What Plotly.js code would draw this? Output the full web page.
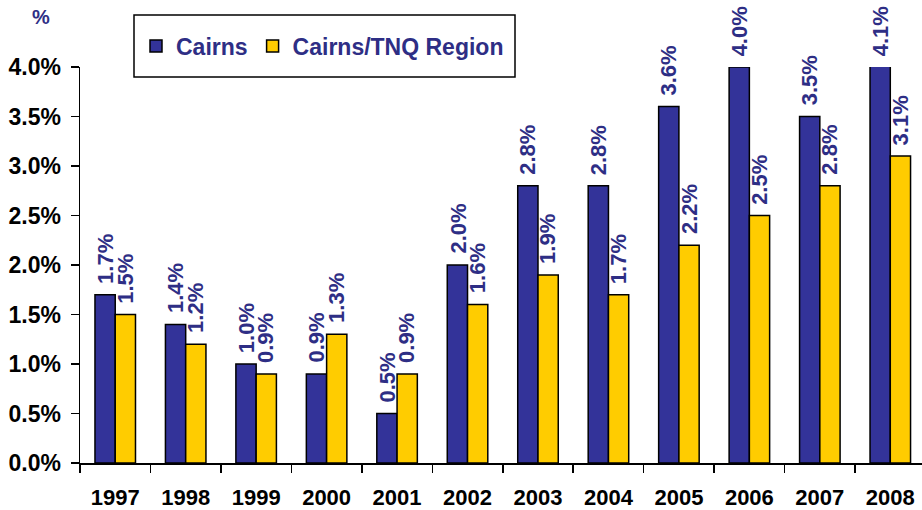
<!DOCTYPE html>
<html>
<head>
<meta charset="utf-8">
<script src="https://cdn.plot.ly/plotly-3.0.1.min.js"></script>
<style>html,body{margin:0;padding:0;background:#fff;}#chart{width:922px;height:510px;}</style>
</head>
<body>
<div id="chart"></div>
<script>
var years = ['1997','1998','1999','2000','2001','2002','2003','2004','2005','2006','2007','2008'];
var cairns = [1.7, 1.4, 1.0, 0.9, 0.5, 2.0, 2.8, 2.8, 3.6, 4.0, 3.5, 4.1];
var region = [1.5, 1.2, 0.9, 1.3, 0.9, 1.6, 1.9, 1.7, 2.2, 2.5, 2.8, 3.1];
var seriesNames = ['Cairns', 'Cairns/TNQ Region'];
var yTickVals = [0, 0.5, 1.0, 1.5, 2.0, 2.5, 3.0, 3.5, 4.0];
var yTickText = ['0.0%','0.5%','1.0%','1.5%','2.0%','2.5%','3.0%','3.5%','4.0%'];
var yMax = 4.0;

var blue = '#333399';
var yellow = '#FFCC00';
var textBlue = '#2E2E85';
var fontFam = 'Liberation Sans, Arial, sans-serif';

var traces = [
  {type:'bar', name: seriesNames[0], x: years, y: cairns,
   marker:{color: blue, line:{color:'#000', width:1.5}}, hoverinfo:'none'},
  {type:'bar', name: seriesNames[1], x: years, y: region,
   marker:{color: yellow, line:{color:'#000', width:1.5}}, hoverinfo:'none'}
];

var annotations = [];
function addLabels(vals, shift) {
  vals.forEach(function(v, i) {
    annotations.push({
      x: i, y: Math.min(v, yMax), xref:'x', yref:'y',
      text: v.toFixed(1) + '%', showarrow:false, textangle:-90,
      xanchor:'center', yanchor:'bottom', xshift: shift, yshift: 9,
      font:{family: fontFam, size: 22, color: textBlue, weight: 'bold'}
    });
  });
}
addLabels(cairns, -10);
addLabels(region, 10);
annotations.push({
  x: (41-80)/842, y: 1 + (67-17)/396, xref:'paper', yref:'paper', text:'%', showarrow:false,
  xanchor:'center', yanchor:'middle',
  font:{family: fontFam, size: 20, color: textBlue, weight:'bold'}
});

var shapes = [{
  type:'rect', xref:'paper', yref:'paper',
  x0:(134-80)/842, x1:(515-80)/842, y0:1+(67-77)/396, y1:1+(67-15)/396,
  line:{color:'#000', width:1.5}, fillcolor:'rgba(0,0,0,0)', layer:'above'
}];

var layout = {
  width: 922, height: 510,
  margin: {l:80, r:0, t:67, b:47, pad:0},
  paper_bgcolor:'#fff', plot_bgcolor:'#fff',
  barmode:'group', bargap:0.425, bargroupgap:0,
  showlegend:true,
  legend:{orientation:'h', x:(136-80)/842, y:1+(67-46)/396, xanchor:'left', yanchor:'middle',
          borderwidth:0, bgcolor:'rgba(0,0,0,0)',
          font:{family: fontFam, size:23, color: textBlue, weight:'bold'},
          itemwidth:30, traceorder:'normal'},
  xaxis:{type:'category', range:[-0.5, 11.45], showline:true, linecolor:'#000', linewidth:1.5,
         ticks:'outside', tickson:'boundaries', ticklen:8, tickwidth:1.5, tickcolor:'#000',
         showgrid:false, zeroline:false, ticklabelstandoff:14,
         tickfont:{family: fontFam, size:22, color:'#000', weight:'bold'}},
  yaxis:{range:[0, yMax], tickvals:yTickVals, ticktext:yTickText, showline:true, linecolor:'#000', linewidth:1.5,
         ticks:'outside', ticklen:8, tickwidth:1.5, tickcolor:'#000', showgrid:false, zeroline:false,
         ticklabelstandoff:5,
         tickfont:{family: fontFam, size:23, color:'#000', weight:'bold'}},
  annotations: annotations,
  shapes: shapes
};

Plotly.newPlot('chart', traces, layout, {displayModeBar:false, staticPlot:true});
</script>
</body>
</html>
